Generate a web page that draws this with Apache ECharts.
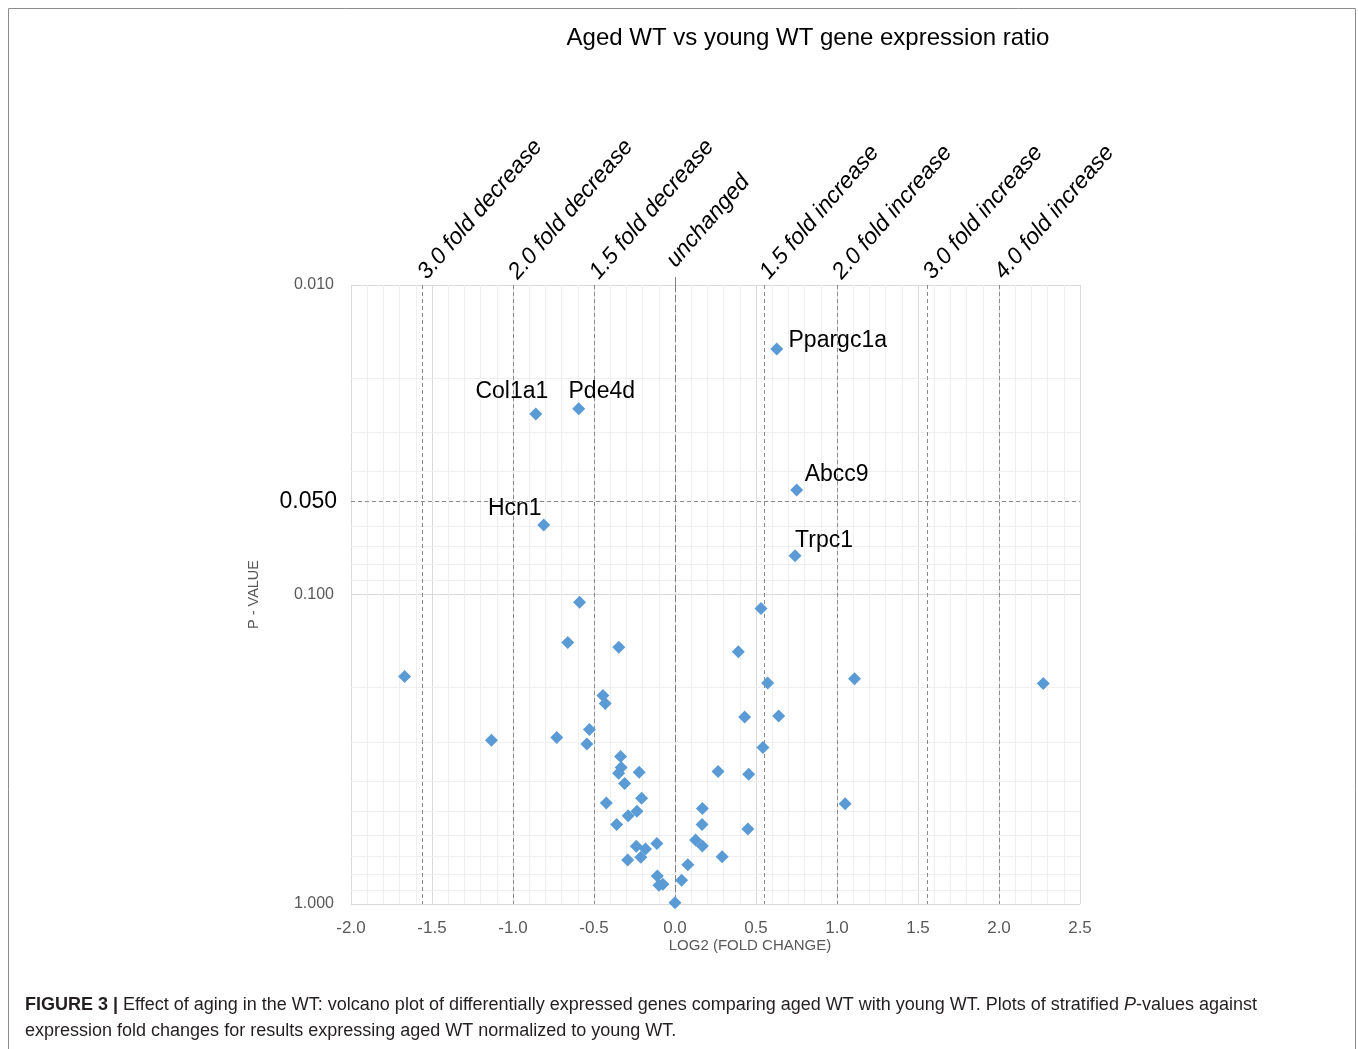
<!DOCTYPE html>
<html>
<head>
<meta charset="utf-8">
<title>Aged WT vs young WT gene expression ratio</title>
<script src="https://cdn.jsdelivr.net/npm/echarts@6/dist/echarts.min.js"></script>
<style>
  html, body { margin: 0; padding: 0; background: #ffffff; }
  #chart { width: 1358px; height: 1049px; }
</style>
</head>
<body>
<div id="chart"></div>
<script>
// ---- data: log2 fold change (aged / young) and P-value per gene ----
const geneLabels = ['Ppargc1a', 'Col1a1', 'Pde4d', 'Abcc9', 'Hcn1', 'Trpc1'];

const log2FoldChange = [
  0.628, -0.859, -0.594, 0.751, -0.810, 0.741,
  -0.589, 0.531, -0.662, -0.347, 0.391, -1.669, 1.108, 0.572, 2.273,
  -0.445, -0.431, 0.430, 0.640, -0.528, -0.730, -1.133, -0.544, 0.543,
  -0.336, -0.332, -0.348, -0.221, 0.266, 0.455, -0.311, -0.424, -0.206,
  1.050, 0.169, -0.289, -0.235, -0.360, 0.167, 0.450, 0.127, 0.169,
  -0.239, -0.182, -0.112, -0.292, -0.211, 0.291, 0.079, -0.109, -0.075,
  -0.099, 0.041, 0.000
];

const pValues = [
  0.0161, 0.0261, 0.0251, 0.0460, 0.0596, 0.0749,
  0.106, 0.111, 0.143, 0.148, 0.153, 0.184, 0.187, 0.193, 0.194,
  0.212, 0.225, 0.249, 0.247, 0.273, 0.290, 0.296, 0.304, 0.312,
  0.334, 0.362, 0.378, 0.375, 0.373, 0.381, 0.408, 0.472, 0.455,
  0.474, 0.491, 0.519, 0.502, 0.554, 0.554, 0.572, 0.621, 0.650,
  0.651, 0.664, 0.637, 0.721, 0.706, 0.703, 0.747, 0.812, 0.864,
  0.870, 0.838, 0.990
];

// reference fold-change guides (log2 scale) and their captions
const foldLineX = [-1.56, -1.0, -0.5, 0, 0.55, 1.0, 1.56, 2.0];
const foldLineLabels = [
  '3.0 fold decrease', '2.0 fold decrease', '1.5 fold decrease', 'unchanged',
  '1.5 fold increase', '2.0 fold increase', '3.0 fold increase', '4.0 fold increase'
];

// axis ticks
const xTickValues = [-2.0, -1.5, -1.0, -0.5, 0.0, 0.5, 1.0, 1.5, 2.0, 2.5];
const yTickValues = [0.01, 0.1, 1];
const significanceP = 0.05;

// ---- label placement for named genes (offset of text centre from marker) ----
const labelOffsets = {
  Ppargc1a: [61, -8],
  Col1a1: [-24, -22],
  Pde4d: [23, -17],
  Abcc9: [40, -15],
  Hcn1: [-29, -16],
  Trpc1: [29, -15]
};

const BLUE = '#5B9BD5';
const GRID_MAJOR = '#d9d9d9';
const GRID_MINOR = '#efefef';
const GUIDE = '#8a8a8a';
const SANS = '"Liberation Sans", Arial, sans-serif';

const points = log2FoldChange.map((x, i) => {
  const item = { value: [x, pValues[i]] };
  const name = geneLabels[i];
  if (name) {
    item.name = name;
    item.label = {
      show: true,
      formatter: name,
      position: 'inside',
      offset: labelOffsets[name],
      color: '#000',
      opacity: 1,
      fontSize: 23,
      fontFamily: SANS
    };
  }
  return item;
});

// minor log gridlines: 2..9 within each decade
const minorY = [];
for (let d = 0; d < yTickValues.length - 1; d++) {
  for (let m = 2; m <= 9; m++) minorY.push(+(yTickValues[d] * m).toFixed(4));
}

// the "unchanged" caption sits above the short tick that extends the zero line,
// so it is lifted clear of it with a leading space and an empty trailing line
function foldCaption(v) {
  const i = foldLineX.findIndex(f => Math.abs(f - v) < 1e-6);
  if (i < 0) return '';
  return foldLineX[i] === 0 ? ' ' + foldLineLabels[i] + '\n' : foldLineLabels[i];
}

const chart = echarts.init(document.getElementById('chart'), null, { renderer: 'canvas' });

chart.setOption({
  animation: false,
  backgroundColor: '#ffffff',
  grid: { left: 351, top: 285, width: 729, height: 619, containLabel: false },
  xAxis: [
    {
      type: 'value',
      min: -2, max: 2.5, interval: 0.5,
      axisLine: { show: false },
      axisTick: { show: false },
      axisLabel: {
        customValues: xTickValues,
        formatter: v => v.toFixed(1),
        color: '#595959', fontSize: 17, fontFamily: SANS, margin: 16
      },
      splitLine: { show: true, lineStyle: { color: GRID_MAJOR, width: 1 } },
      minorTick: { show: false, splitNumber: 5 },
      minorSplitLine: { show: true, lineStyle: { color: GRID_MINOR, width: 1 } }
    },
    {
      type: 'value',
      position: 'top',
      min: -2, max: 2.5,
      axisLine: { show: false },
      axisTick: {
        show: true, inside: false, length: 8,
        customValues: [0],
        lineStyle: { color: '#7f7f7f', width: 1 }
      },
      axisLabel: {
        customValues: foldLineX,
        formatter: foldCaption,
        rotate: -49,
        margin: 9,
        lineHeight: 22,
        color: '#000', fontSize: 23, fontStyle: 'italic', fontFamily: SANS
      },
      splitLine: { show: false }
    }
  ],
  yAxis: {
    type: 'log', logBase: 10,
    min: 0.01, max: 1, inverse: true,
    axisLine: { show: false },
    axisTick: { show: false },
    axisLabel: {
      customValues: yTickValues,
      formatter: v => v.toFixed(3),
      color: '#595959', fontSize: 16, fontFamily: SANS, margin: 17,
      padding: [4, 0, 0, 0]
    },
    splitLine: { show: true, lineStyle: { color: GRID_MAJOR, width: 1 } },
    name: 'P - VALUE',
    nameLocation: 'middle',
    nameGap: 90,
    nameTextStyle: { color: '#595959', fontSize: 14.5, fontFamily: SANS }
  },
  series: [
    {
      // minor horizontal gridlines on the log axis
      type: 'scatter', data: [], silent: true, z: 0,
      markLine: {
        z: 0,
        silent: true, symbol: 'none', animation: false,
        label: { show: false },
        lineStyle: { color: GRID_MINOR, width: 1, type: 'solid' },
        emphasis: { disabled: true },
        data: minorY.map(v => ({ yAxis: v }))
      }
    },
    {
      // fold-change guides and the significance threshold
      type: 'scatter', data: [], silent: true, z: 1,
      markLine: {
        z: 1,
        silent: true, symbol: 'none', animation: false,
        emphasis: { disabled: true },
        label: { show: false },
        data: [
          ...foldLineX.map(v => ({
            xAxis: v,
            lineStyle: v === 0
              ? { color: '#7f7f7f', width: 1, type: [7, 3] }
              : { color: GUIDE, width: 1, type: [4, 3] }
          })),
          {
            yAxis: significanceP,
            lineStyle: { color: GUIDE, width: 1, type: [4, 3] },
            label: {
              show: true, position: 'start', distance: 14,
              formatter: significanceP.toFixed(3),
              color: '#000', fontSize: 23, fontFamily: SANS,
              padding: [4, 0, 0, 0]
            }
          }
        ]
      }
    },
    {
      type: 'scatter',
      z: 3,
      symbol: 'diamond',
      symbolSize: 13,
      itemStyle: { color: BLUE, opacity: 1 },
      emphasis: { disabled: true },
      data: points
    }
  ],
  graphic: [
    {
      type: 'rect', silent: true, z: -1,
      shape: { x: 8.5, y: 8.5, width: 1347, height: 1100 },
      style: { fill: null, stroke: '#8c8c8c', lineWidth: 1 }
    },
    {
      type: 'text', silent: true,
      x: 808, y: 38,
      style: {
        text: 'Aged WT vs young WT gene expression ratio',
        align: 'center', verticalAlign: 'middle',
        fill: '#000', fontSize: 24, fontFamily: SANS
      }
    },
    {
      type: 'text', silent: true,
      x: 750, y: 946,
      style: {
        text: 'LOG2 (FOLD CHANGE)',
        align: 'center', verticalAlign: 'middle',
        fill: '#595959', fontSize: 15, fontFamily: SANS
      }
    },
    {
      type: 'text', silent: true,
      x: 25, y: 992,
      style: {
        text: '{b|FIGURE 3 |} Effect of aging in the WT: volcano plot of differentially expressed genes comparing aged WT with young WT. Plots of stratified {i|P}-values against\nexpression fold changes for results expressing aged WT normalized to young WT.',
        align: 'left', verticalAlign: 'top',
        fill: '#231f20', fontSize: 18, lineHeight: 26, fontFamily: SANS,
        rich: {
          b: { fontWeight: 'bold', fontSize: 18, lineHeight: 26, fontFamily: SANS, fill: '#231f20' },
          i: { fontStyle: 'italic', fontSize: 18, lineHeight: 26, fontFamily: SANS, fill: '#231f20' }
        }
      }
    }
  ]
});
</script>
</body>
</html>
